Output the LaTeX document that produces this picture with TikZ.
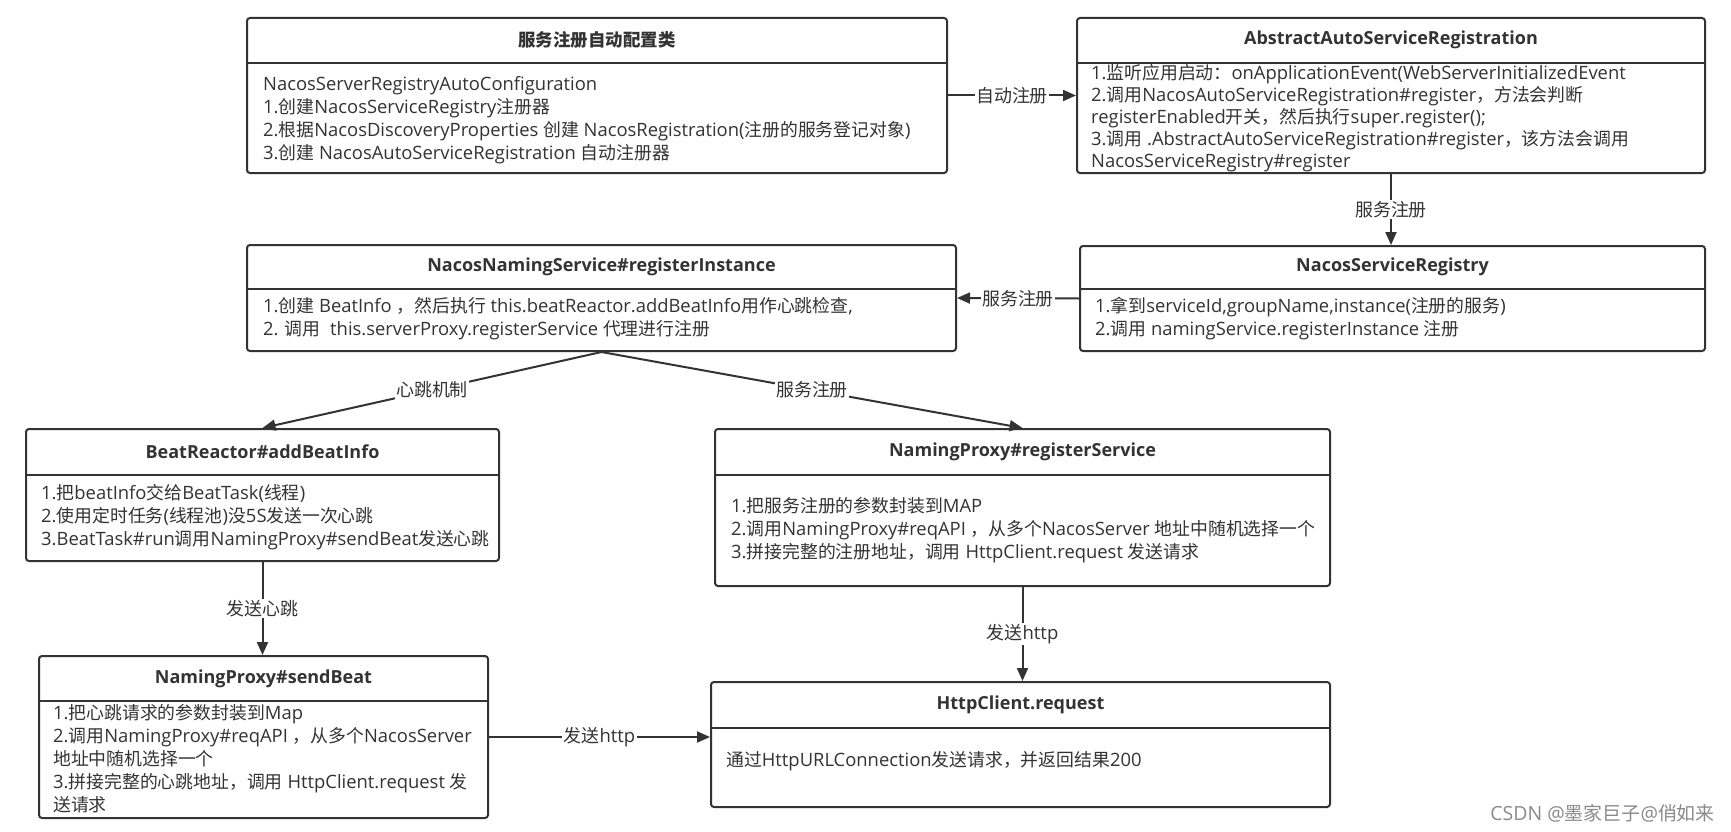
\documentclass[tikz,border=0pt]{standalone}
\usepackage{fontspec}
\usetikzlibrary{arrows.meta}
\setmainfont{Open Sans}
\newfontfamily\cjkfont{Noto Sans CJK SC}[Scale=0.97]
\XeTeXinterchartokenstate=1
\newXeTeXintercharclass\CJKcls
\count255="2E80
\loop\XeTeXcharclass\count255=\CJKcls\relax\ifnum\count255<"9FFF\advance\count255 by 1\repeat
\count255="FF00
\loop\XeTeXcharclass\count255=\CJKcls\relax\ifnum\count255<"FFEF\advance\count255 by 1\repeat
\XeTeXinterchartoks 0 \CJKcls={\begingroup\cjkfont}
\XeTeXinterchartoks 4095 \CJKcls={\begingroup\cjkfont}
\XeTeXinterchartoks \CJKcls 0={\endgroup}
\XeTeXinterchartoks \CJKcls 4095={\endgroup}
\definecolor{linec}{HTML}{333333}
\definecolor{txt}{HTML}{333333}
\definecolor{wm}{HTML}{8A8A8A}
\newcommand\fst{\rule{0pt}{17pt}}
\begin{document}
\begin{tikzpicture}[x=1pt,y=-1pt,
  box/.style={draw=linec, line width=2pt, rounded corners=3pt, inner sep=0pt},
  hline/.style={draw=linec, line width=2pt},
  ttl/.style={font=\fontsize{18}{20}\selectfont\bfseries, text=txt, inner sep=0pt},
  bdy/.style={font=\fontsize{18.4}{23}\selectfont, text=txt, align=left, inner sep=0pt, anchor=north west},
  bdyt/.style={bdy, font=\fontsize{18.4}{22}\selectfont},
  lbl/.style={font=\fontsize{18.5}{20}\selectfont, fill=white, text=txt, inner sep=1.5pt},
  arr/.style={draw=linec, line width=2pt, -{Triangle[length=13pt,width=11pt]}},
]
\useasboundingbox (0,0) rectangle (1731,832);
\fill[white] (0,0) rectangle (1731,832);

% Box 1
\node[box, minimum width=700pt, minimum height=155pt] (b1) at (597,95.5) {};
\draw[hline] (247,63) -- (947,63);
\node[ttl] (b1t) at (597,40) {服务注册自动配置类};
\node[bdy] (b1b) at (263,72.8) {\fst NacosServerRegistryAutoConfiguration\\
1.创建NacosServiceRegistry注册器\\
2.根据NacosDiscoveryProperties 创建 NacosRegistration(注册的服务登记对象)\\
3.创建 NacosAutoServiceRegistration 自动注册器};

% Box 2
\node[box, minimum width=628pt, minimum height=155pt] (b2) at (1391,95.5) {};
\draw[hline] (1077,63) -- (1705,63);
\node[ttl] (b2t) at (1391,40) {AbstractAutoServiceRegistration};
\node[bdyt] (b2b) at (1091,62.3) {\fst 1.监听应用启动：onApplicationEvent(WebServerInitializedEvent\\
2.调用NacosAutoServiceRegistration\#register，方法会判断\\
registerEnabled开关，然后执行super.register();\\
3.调用 .AbstractAutoServiceRegistration\#register，该方法会调用\\
NacosServiceRegistry\#register};

% Box 3
\node[box, minimum width=625pt, minimum height=105pt] (b3) at (1392.5,298.5) {};
\draw[hline] (1080,289) -- (1705,289);
\node[ttl] (b3t) at (1392.5,267) {NacosServiceRegistry};
\node[bdy] (b3b) at (1095,295.3) {\fst 1.拿到serviceId,groupName,instance(注册的服务)\\
2.调用 namingService.registerInstance 注册};

% Box 4
\node[box, minimum width=709pt, minimum height=106pt] (b4) at (601.5,298) {};
\draw[hline] (247,289) -- (956,289);
\node[ttl] (b4t) at (601.5,267) {NacosNamingService\#registerInstance};
\node[bdy] (b4b) at (263,295.3) {\fst 1.创建 BeatInfo ，然后执行 this.beatReactor.addBeatInfo用作心跳检查,\\
2. 调用 \ this.serverProxy.registerService 代理进行注册};

% Box 5
\node[box, minimum width=473pt, minimum height=132pt] (b5) at (262.5,495) {};
\draw[hline] (26,475) -- (499,475);
\node[ttl] (b5t) at (262.5,452) {BeatReactor\#addBeatInfo};
\node[bdy] (b5b) at (41,482.3) {\fst 1.把beatInfo交给BeatTask(线程)\\
2.使用定时任务(线程池)没5S发送一次心跳\\
3.BeatTask\#run调用NamingProxy\#sendBeat发送心跳};

% Box 6
\node[box, minimum width=615pt, minimum height=157pt] (b6) at (1022.5,507.5) {};
\draw[hline] (715,475) -- (1330,475);
\node[ttl] (b6t) at (1022.5,452) {NamingProxy\#registerService};
\node[bdy] (b6b) at (731,495.3) {\fst 1.把服务注册的参数封装到MAP\\
2.调用NamingProxy\#reqAPI ，从多个NacosServer 地址中随机选择一个\\
3.拼接完整的注册地址，调用 HttpClient.request 发送请求};

% Box 7
\node[box, minimum width=449pt, minimum height=162pt] (b7) at (263.5,737) {};
\draw[hline] (39,701) -- (488,701);
\node[ttl] (b7t) at (263.5,678.5) {NamingProxy\#sendBeat};
\node[bdy] (b7b) at (53,702.3) {\fst 1.把心跳请求的参数封装到Map\\
2.调用NamingProxy\#reqAPI ，从多个NacosServer\\
地址中随机选择一个\\
3.拼接完整的心跳地址，调用 HttpClient.request 发\\
送请求};

% Box 8
\node[box, minimum width=619pt, minimum height=125pt] (b8) at (1020.5,744.5) {};
\draw[hline] (711,728) -- (1330,728);
\node[ttl] (b8t) at (1020.5,705) {HttpClient.request};
\node[bdy] (b8b) at (726,749.3) {\fst 通过HttpURLConnection发送请求，并返回结果200};

% Connectors
\draw[arr] (b1.east) -- node[lbl] {自动注册} (b2.west);
\draw[arr] (b2.south) -- node[lbl] {服务注册} (b2.south |- b3.north);
\draw[arr] (b3.west) -- node[lbl] {服务注册} (b4.east);
\draw[arr] (b4.south) -- node[lbl] {心跳机制} (b5.north);
\draw[arr] (b4.south) -- node[lbl] {服务注册} (b6.north);
\draw[arr] (b5.south) -- node[lbl] {发送心跳} (b5.south |- b7.north);
\draw[arr] (b6.south) -- node[lbl] {发送http} (b6.south |- b8.north);
\draw[arr] (b7.east) -- node[lbl] {发送http} (b7.east -| b8.west);

% Watermark
\node[font=\fontsize{19.5}{20}\selectfont, text=wm, anchor=east, inner sep=0pt] (wmk) at (1715,813) {CSDN @墨家巨子@俏如来};
\end{tikzpicture}
\end{document}
